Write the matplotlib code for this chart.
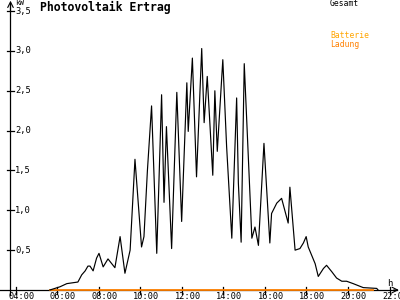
import matplotlib
matplotlib.use("Agg")
import matplotlib.pyplot as plt
import numpy as np

# PV output (kW) over the day
times = [
    "05:38", "06:07", "06:27", "06:59", "07:10", "07:20", "07:28", "07:34", "07:43", "07:53",
    "08:00", "08:12", "08:26", "08:46", "09:01", "09:15", "09:30", "09:44", "10:03", "10:10",
    "10:20", "10:32", "10:47", "11:01", "11:08", "11:15", "11:30", "11:45", "11:59", "12:14",
    "12:18", "12:30", "12:42", "12:57", "13:04", "13:13", "13:29", "13:35", "13:42", "13:58",
    "14:09", "14:24", "14:38", "14:43", "14:51", "15:00", "15:22", "15:31", "15:41", "15:57",
    "16:14", "16:19", "16:34", "16:48", "17:07", "17:12", "17:27", "17:41", "17:51", "17:59",
    "18:05", "18:25", "18:34", "18:49", "18:58", "19:13", "19:27", "19:42", "19:56", "20:15",
    "20:44", "21:23", "21:27",
]
gesamt = [
    0.00, 0.04, 0.08, 0.10, 0.19, 0.24, 0.30, 0.30, 0.24, 0.40,
    0.46, 0.29, 0.39, 0.28, 0.67, 0.21, 0.50, 1.64, 0.54, 0.67,
    1.50, 2.31, 0.46, 2.45, 1.10, 2.05, 0.52, 2.48, 0.86, 2.60,
    1.99, 2.91, 1.42, 3.03, 2.10, 2.68, 1.44, 2.50, 1.74, 2.89,
    1.80, 0.65, 2.41, 1.34, 0.60, 2.84, 0.65, 0.79, 0.56, 1.84,
    0.59, 0.96, 1.09, 1.15, 0.84, 1.29, 0.50, 0.52, 0.59, 0.67,
    0.54, 0.33, 0.17, 0.27, 0.31, 0.23, 0.15, 0.11, 0.11, 0.08,
    0.03, 0.02, 0.00,
]
ladung_start, ladung_end = "05:38", "21:12"
ladung_value = 0.0

y_ticks = [0.5, 1.0, 1.5, 2.0, 2.5, 3.0, 3.5]
x_ticks = [4, 6, 8, 10, 12, 14, 16, 18, 20, 22]


def to_hours(s):
    h, m = s.split(":")
    return int(h) + int(m) / 60


t = np.array([to_hours(s) for s in times])
orange = "#ff8000"

fig = plt.figure(figsize=(4, 3), dpi=100)
ax = fig.add_axes([0, 0, 1, 1])
ax.set_xlim(3.229, 22.506)
ax.set_ylim(-0.1255, 3.639)
ax.set_axis_off()

mono = "DejaVu Sans Mono"

# axes with arrows
x0 = 3.735
ax.plot([x0, x0], [-0.06, 3.58], color="black", lw=0.9)
ax.annotate("", xy=(x0, 3.63), xytext=(x0, 3.5),
            arrowprops=dict(arrowstyle="->", lw=0.8, color="black", shrinkA=0, shrinkB=0))
ax.plot([3.229, 22.35], [0, 0], color="black", lw=0.9)
ax.annotate("", xy=(22.45, 0), xytext=(22.2, 0),
            arrowprops=dict(arrowstyle="->", lw=0.8, color="black", shrinkA=0, shrinkB=0))

for v in y_ticks:
    ax.plot([x0 - 0.15, x0 + 0.15], [v, v], color="black", lw=0.9)
    ax.text(x0 + 0.22, v, f"{v:.1f}".replace(".", ","), fontsize=6.3, family=mono,
            ha="left", va="center")
for h in x_ticks:
    ax.plot([h, h], [-0.05, 0.04], color="black", lw=0.9)
    lbl = f"{h:02d}:00"
    ax.text(h + 0.27, -0.022, lbl, fontsize=6.2, family=mono, ha="center", va="top",
            clip_on=False)

ax.text(x0 + 0.2, 3.645, "kW", fontsize=5.3, family=mono, ha="left", va="top")
ax.text(21.9, 0.03, "h", fontsize=6.5, family=mono, ha="left", va="bottom")

# series
ax.plot([to_hours(ladung_start), to_hours(ladung_end)], [ladung_value, ladung_value],
        color=orange, lw=1.3, zorder=3)
ax.plot(t, gesamt, color="black", lw=0.85, zorder=4)

ax.text(0.1, 0.975, "Photovoltaik Ertrag", transform=ax.transAxes, fontsize=8.3,
        family=mono, fontweight="bold", ha="left", va="center")
ax.text(0.825, 0.987, "Gesamt", transform=ax.transAxes, fontsize=5.8, family=mono,
        ha="left", va="center")
ax.text(0.825, 0.88, "Batterie", transform=ax.transAxes, fontsize=5.8, family=mono,
        color="#ffa500", ha="left", va="center")
ax.text(0.825, 0.853, "Ladung", transform=ax.transAxes, fontsize=5.8, family=mono,
        color=orange, ha="left", va="center")

fig.savefig("out.png", dpi=100)
